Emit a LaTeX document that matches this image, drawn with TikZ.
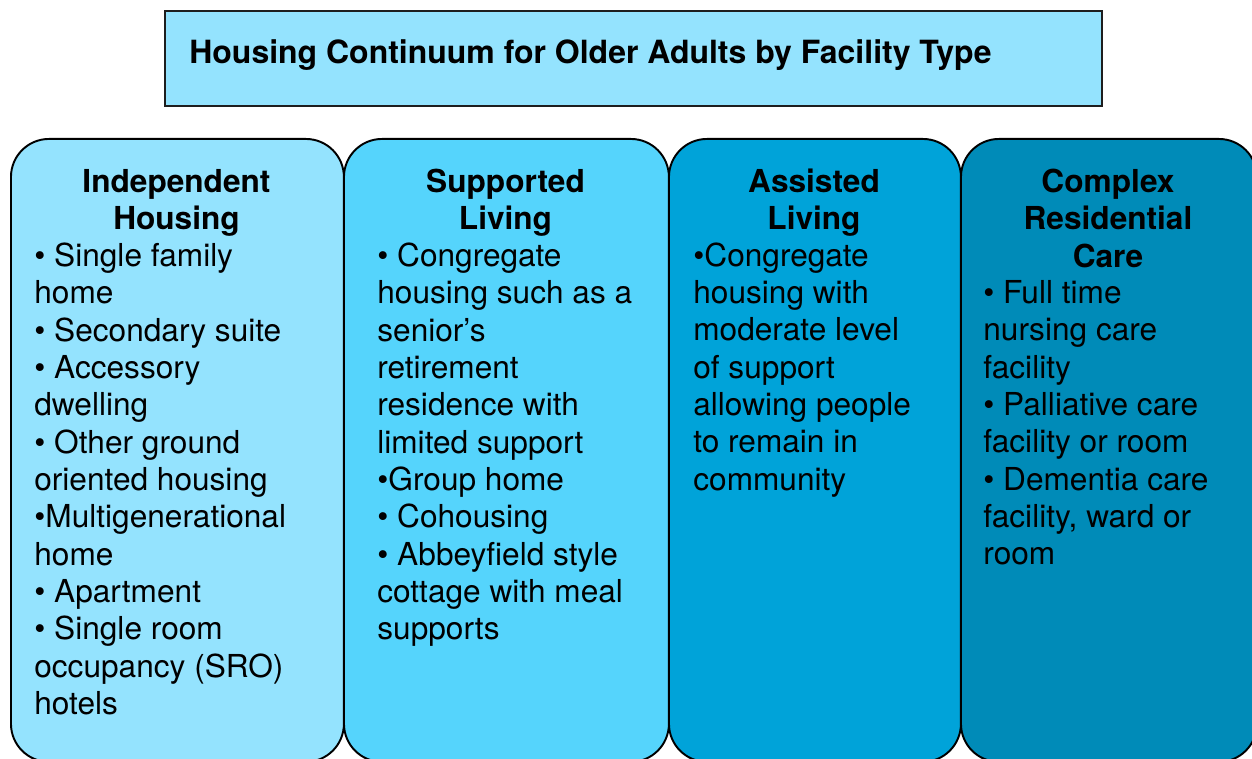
\documentclass[tikz,border=0pt]{standalone}
\usepackage{fontspec}
\setmainfont{TeX Gyre Heros}
\usepackage{tikz}
\definecolor{paleBlue}{RGB}{148,227,254}
\definecolor{skyBlue}{RGB}{85,212,252}
\definecolor{midBlue}{RGB}{0,163,217}
\definecolor{deepBlue}{RGB}{0,139,184}
\definecolor{edgeGray}{RGB}{30,30,30}
\usetikzlibrary{positioning}

% multi-line nodes sit on the baseline of their last line
\tikzset{
  column/.style={draw=black, line width=1.1pt, rounded corners=0.76cm,
    minimum height=12.46cm, inner sep=0pt, anchor=north west},
  colhead/.style={font=\fontsize{18}{21.25}\selectfont\bfseries,
    align=center, inner sep=0pt, anchor=base},
  colitems/.style={font=\fontsize{18}{21.25}\selectfont,
    align=left, inner sep=0pt, anchor=base west},
}

\begin{document}
\begin{tikzpicture}[x=0.02cm, y=-0.02cm]
        \useasboundingbox (0, 0) rectangle (1252, 759);

        % title banner
        \node[draw=edgeGray, line width=1.3pt, fill=paleBlue, anchor=north west,
              minimum width=18.74cm, minimum height=1.9cm, inner sep=0pt] (banner) at (164, 10) {};
        \node[font=\fontsize{18.2}{21.5}\selectfont\bfseries, anchor=base west, inner sep=0pt]
              (bannerText) at (189, 63.5) {Housing Continuum for Older Adults by Facility Type};

        % the four facility columns
        \node[column, fill=paleBlue, minimum width=6.66cm] (indep)    at ( 10, 138) {};
        \node[column, fill=skyBlue,  minimum width=6.50cm] (support)  at (343, 138) {};
        \node[column, fill=midBlue,  minimum width=5.84cm] (assist)   at (668, 138) {};
        \node[column, fill=deepBlue, minimum width=5.92cm] (complex)  at (960, 138) {};

        \node[colhead] (indepHead)   at ( 176.5, 229.9) {Independent\\Housing};
        \node[colhead] (supportHead) at ( 505.5, 229.9) {Supported\\Living};
        \node[colhead] (assistHead)  at ( 814  , 229.9) {Assisted\\Living};
        \node[colhead] (complexHead) at (1108  , 267.3) {Complex\\Residential\\Care};

        \node[colitems] (indepList) at (34, 714.4) {%
            • Single family\\home\\• Secondary suite\\• Accessory\\dwelling\\
            • Other ground\\oriented housing\\•Multigenerational\\home\\
            • Apartment\\• Single room\\occupancy (SRO)\\hotels};
        \node[colitems] (supportList) at (377, 639.8) {%
            • Congregate\\housing such as a\\senior’s\\retirement\\residence with\\
            limited support\\•Group home\\• Cohousing\\• Abbeyfield style\\
            cottage with meal\\supports};
        \node[colitems] (assistList) at (693, 490.2) {%
            •Congregate\\housing with\\moderate level\\of support\\
            allowing people\\to remain in\\community};
        \node[colitems] (complexList) at (983, 565.0) {%
            • Full time\\nursing care\\facility\\• Palliative care\\
            facility or room\\• Dementia care\\facility, ward or\\room};
    \end{tikzpicture}
\end{document}
